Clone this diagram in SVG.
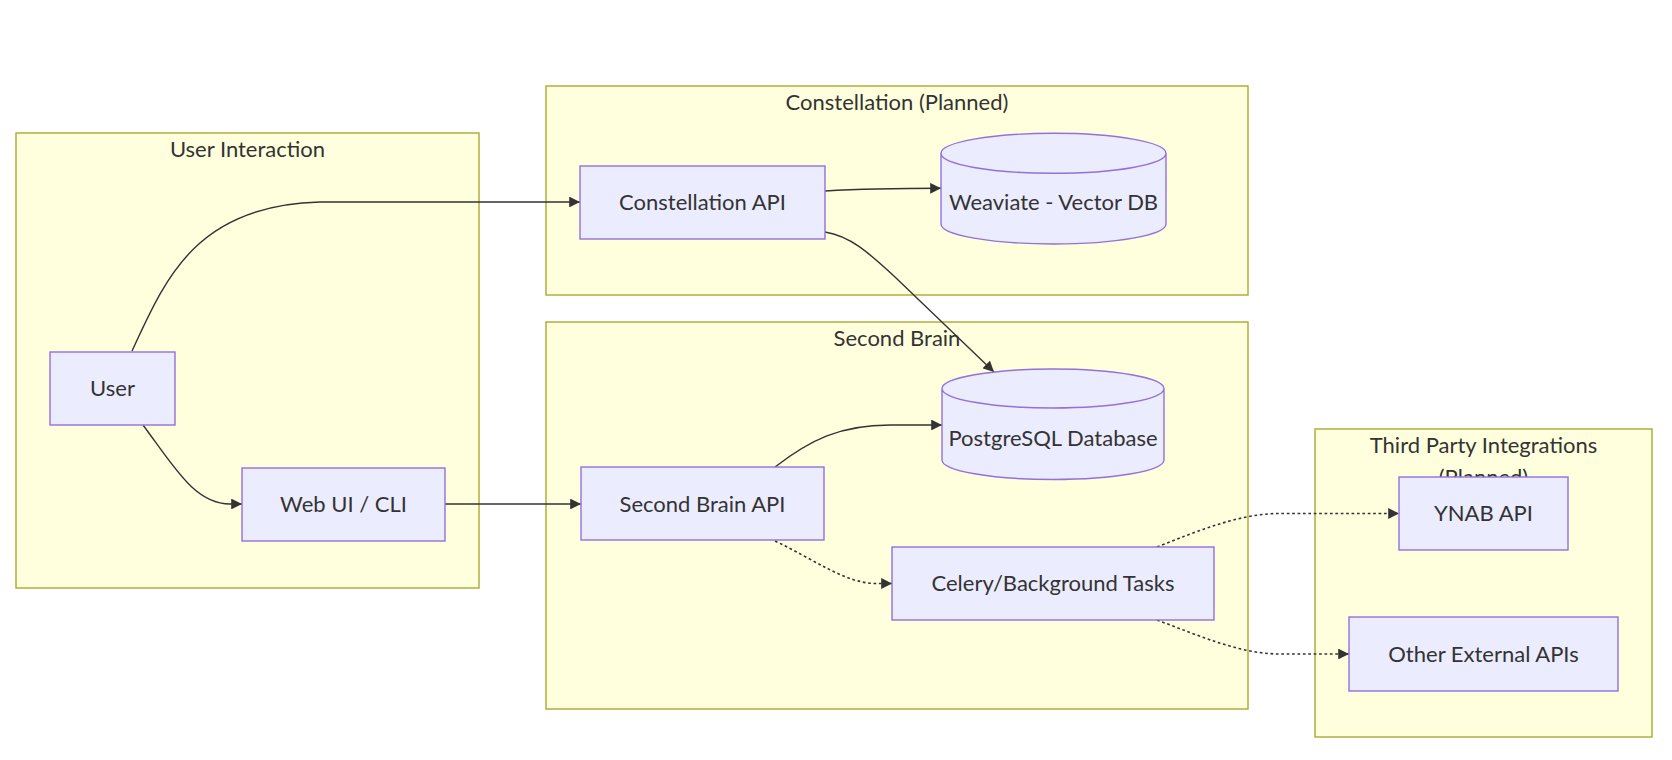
<svg xmlns="http://www.w3.org/2000/svg" width="1672" height="760" viewBox="0 0 1672 760">
<defs>
<style>
.cluster rect{fill:#ffffde;stroke:#aaaa33;stroke-width:1.4}
.node rect,.node path{fill:#ececff;stroke:#9370db;stroke-width:1.4}
text{font-family:Lato,"Liberation Sans",sans-serif;font-size:22px;fill:#333;text-anchor:middle}
.edge{fill:none;stroke:#333;stroke-width:1.4}
.dotted{stroke-dasharray:2.7 2.7;stroke-width:1.6}
</style>
<marker id="arrow" viewBox="0 0 10 10" refX="10" refY="5" markerUnits="userSpaceOnUse" markerWidth="10.8" markerHeight="10.8" orient="auto">
<path d="M0,0 L10,5 L0,10 z" fill="#333"/>
</marker>
</defs>
<rect x="0" y="0" width="1672" height="760" fill="#ffffff"/>
<g id="clusters">
<g id="cluster-user-interaction" class="cluster">
<rect x="16" y="133" width="463" height="455"/>
<text x="247.5" y="156.5">User Interaction</text>
</g>
<g id="cluster-constellation" class="cluster">
<rect x="546" y="86" width="702" height="209"/>
<text x="897" y="110">Constellation (Planned)</text>
</g>
<g id="cluster-second-brain" class="cluster">
<rect x="546" y="322" width="702" height="387"/>
<text x="897" y="345.5">Second Brain</text>
</g>
<g id="cluster-third-party" class="cluster">
<rect x="1315" y="429" width="337" height="308"/>
<text x="1483.5" y="453.3">Third Party Integrations</text>
<text x="1483.5" y="485">(Planned)</text>
</g>
</g>
<g id="connectors">
<path class="edge" d="M132,351 C165,280 195,205 320,202 L580,202" marker-end="url(#arrow)"/>
<path class="edge" d="M143,425 C175,468 195,504 230,504 L242,504" marker-end="url(#arrow)"/>
<path class="edge" d="M445,504 L581,504" marker-end="url(#arrow)"/>
<path class="edge" d="M825,191 C860,189 880,188.3 941,188.3" marker-end="url(#arrow)"/>
<path class="edge" d="M825,232 C850,236 868,252 895,277 L994,372" marker-end="url(#arrow)"/>
<path class="edge" d="M775,467 C810,440 840,425 890,425 L942,425" marker-end="url(#arrow)"/>
<path class="edge dotted" d="M775,541 C815,560 845,583 875,583.5 L892,583.5" marker-end="url(#arrow)"/>
<path class="edge dotted" d="M1157,547 C1200,530 1240,513.5 1280,513.5 L1399,513.5" marker-end="url(#arrow)"/>
<path class="edge dotted" d="M1157,620 C1200,636 1240,654 1280,654 L1349,654" marker-end="url(#arrow)"/>
</g>
<g id="node-user" class="node">
<rect x="50" y="352" width="125" height="73"/>
<text x="112.5" y="396">User</text>
</g>
<g id="node-webui" class="node">
<rect x="242" y="468" width="203" height="73"/>
<text x="343.5" y="512">Web UI / CLI</text>
</g>
<g id="node-constellation-api" class="node">
<rect x="580" y="166" width="245" height="73"/>
<text x="702.5" y="210">Constellation API</text>
</g>
<g id="node-weaviate" class="node">
<path d="M941,153.3 a112.5,20 0 0 0 225,0 a112.5,20 0 0 0 -225,0 l0,70.7 a112.5,20 0 0 0 225,0 l0,-70.7"/>
<text x="1053.5" y="209.5">Weaviate - Vector DB</text>
</g>
<g id="node-postgres" class="node">
<path d="M942,388.5 a111,19.5 0 0 0 222,0 a111,19.5 0 0 0 -222,0 l0,71.5 a111,19.5 0 0 0 222,0 l0,-71.5"/>
<text x="1053" y="446">PostgreSQL Database</text>
</g>
<g id="node-second-brain-api" class="node">
<rect x="581" y="467" width="243" height="73"/>
<text x="702.5" y="511.5">Second Brain API</text>
</g>
<g id="node-celery" class="node">
<rect x="892" y="547" width="322" height="73"/>
<text x="1053" y="591">Celery/Background Tasks</text>
</g>
<g id="node-ynab" class="node">
<rect x="1399" y="477" width="169" height="73"/>
<text x="1483.5" y="521">YNAB API</text>
</g>
<g id="node-other-apis" class="node">
<rect x="1349" y="617" width="269" height="74"/>
<text x="1483.5" y="661.5">Other External APIs</text>
</g>
</svg>
